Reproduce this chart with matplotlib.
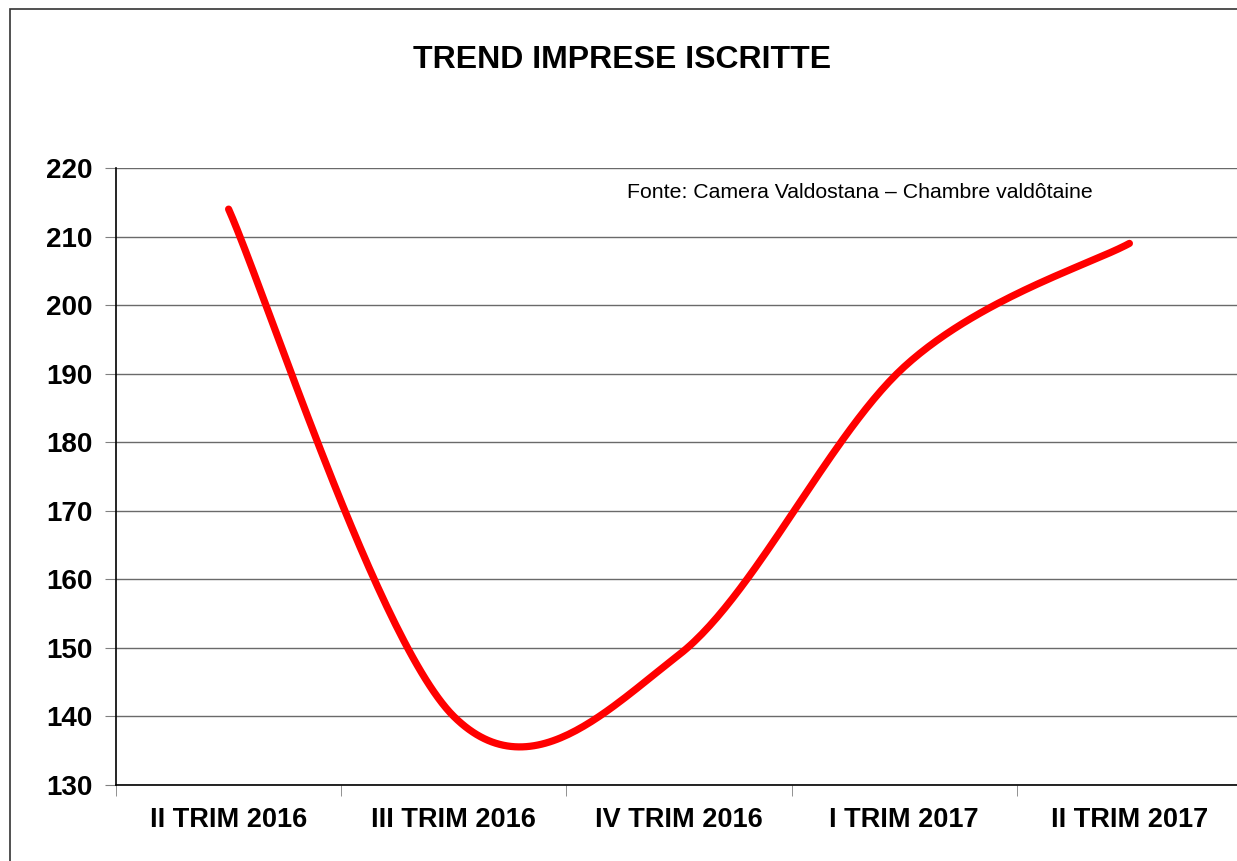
import matplotlib

matplotlib.use("Agg")
import matplotlib.pyplot as plt
import numpy as np
from matplotlib.patches import Rectangle

# values
categories = ["II TRIM 2016", "III TRIM 2016", "IV TRIM 2016", "I TRIM 2017", "II TRIM 2017"]
imprese = [214, 140, 149, 191, 209]
y_ticks = list(range(130, 221, 10))

TITLE = "TREND IMPRESE ISCRITTE"
SOURCE = "Fonte: Camera Valdostana \u2013 Chambre valdôtaine"


def smooth(xs, ys, n=60):
    """Excel-style smoothed line: cubic Bezier through each point (Catmull-Rom tangents)."""
    xs = np.asarray(xs, float)
    ys = np.asarray(ys, float)
    px = np.concatenate([[xs[0]], xs, [xs[-1]]])
    py = np.concatenate([[ys[0]], ys, [ys[-1]]])
    out_x, out_y = [], []
    t = np.linspace(0, 1, n)
    for i in range(1, len(xs)):
        p0x, p0y = px[i], py[i]
        p3x, p3y = px[i + 1], py[i + 1]
        c1x = p0x + (px[i + 1] - px[i - 1]) / 6
        c1y = p0y + (py[i + 1] - py[i - 1]) / 6
        c2x = p3x - (px[i + 2] - px[i]) / 6
        c2y = p3y - (py[i + 2] - py[i]) / 6
        b0, b1, b2, b3 = (1 - t) ** 3, 3 * (1 - t) ** 2 * t, 3 * (1 - t) * t ** 2, t ** 3
        out_x.extend(b0 * p0x + b1 * c1x + b2 * c2x + b3 * p3x)
        out_y.extend(b0 * p0y + b1 * c1y + b2 * c2y + b3 * p3y)
    return out_x, out_y


plt.rcParams["font.family"] = ["Liberation Sans", "DejaVu Sans"]

fig = plt.figure(figsize=(12.37, 8.61), dpi=100)
ax = fig.add_axes([116 / 1237, 1 - 785 / 861, 1126 / 1237, 617 / 861])

x = np.arange(len(categories))
sx, sy = smooth(x, imprese)
ax.plot(sx, sy, color="#ff0000", lw=5.2, solid_capstyle="round", zorder=3, clip_on=False)

ax.set_xlim(-0.5, len(categories) - 0.5)
ax.set_ylim(130, 220)
ax.set_yticks(y_ticks)
ax.set_yticklabels([str(v) for v in y_ticks], fontsize=20, fontweight="bold")
ax.set_xticks(x)
ax.set_xticklabels(categories, fontsize=19.5, fontweight="bold")
ax.set_xticks(np.arange(-0.5, len(categories)), minor=True)
ax.tick_params(axis="x", which="major", length=0, pad=16)
ax.tick_params(axis="x", which="minor", length=8, color="#808080", direction="out")
ax.tick_params(axis="y", length=8, color="#808080", direction="out", pad=9)
ax.yaxis.grid(True, color="#6a6a6a", lw=1)
ax.set_axisbelow(True)
for side in ("top", "right"):
    ax.spines[side].set_visible(False)
for side in ("left", "bottom"):
    ax.spines[side].set_color("black")
    ax.spines[side].set_linewidth(1.2)

fig.text(622 / 1237, 1 - 60 / 861, TITLE, ha="center", va="center",
         fontsize=23, fontweight="bold")
ax.text(627 / 1237, 1 - 193 / 861, SOURCE, transform=fig.transFigure,
        ha="left", va="center", fontsize=15.3)

# chart-area border (cut off on the right and bottom in the original)
fig.patches.append(Rectangle((10 / 1237, -0.1), 2, (852 / 861) + 0.1,
                             transform=fig.transFigure, fill=False,
                             edgecolor="#333333", lw=1.2))

fig.savefig("out.png", dpi=100)
